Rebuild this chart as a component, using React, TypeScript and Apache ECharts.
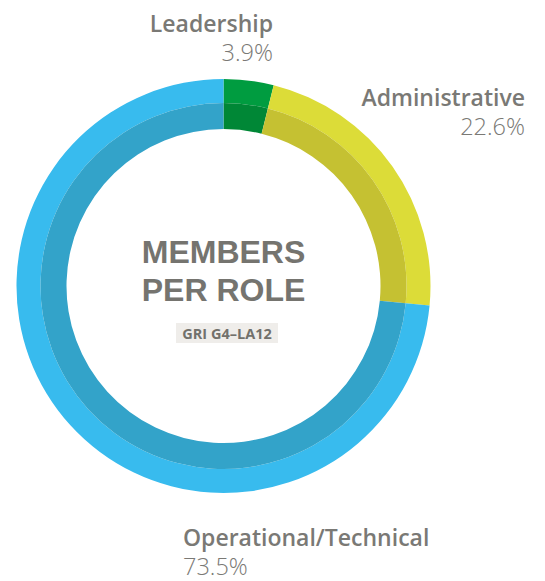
import React, { useEffect, useRef } from "react";
import * as echarts from "echarts";

const categories = ["Leadership", "Administrative", "Operational/Technical"];
const shares = [3.9, 22.6, 73.5];
const outerColors = ["#009C40", "#DCDC38", "#38BBEE"];
const innerColors = ["#008736", "#C5C132", "#33A3C9"];
const titleLines = ["MEMBERS", "PER ROLE"];
const badgeText = "GRI G4–LA12";

const FONT = "'Open Sans', sans-serif";
const TITLE_FONT = "'Liberation Sans', Arial, sans-serif";
const GRAY = "#7A7975";

export default function App() {
  const ref = useRef<HTMLDivElement>(null);
  useEffect(() => {
    if (!ref.current) return;
    const chart = echarts.init(ref.current, undefined, { renderer: "svg" });
    const cx = 223.5;
    const cy = 286;
    const labelPos = [
      { x: 273, y: 34, align: "right" },
      { x: 525, y: 108, align: "right" },
      { x: 183, y: 548, align: "left" },
    ];
    const labelTexts: any[] = [];
    categories.forEach((c, i) => {
      const p = labelPos[i];
      labelTexts.push({
        type: "text",
        x: p.x,
        y: p.y,
        style: {
          text: c,
          fill: GRAY,
          font: `600 23px ${FONT}`,
          textAlign: p.align,
          textVerticalAlign: "bottom",
        },
      });
      labelTexts.push({
        type: "text",
        x: p.x,
        y: p.y + 30,
        style: {
          text: shares[i].toFixed(1) + "%",
          fill: GRAY,
          font: `300 23.5px ${FONT}`,
          textAlign: p.align,
          textVerticalAlign: "bottom",
        },
      });
    });
    chart.setOption({
      animation: false,
      series: [
        {
          type: "pie",
          center: [cx, cy],
          radius: [183, 207],
          startAngle: 90,
          clockwise: true,
          silent: true,
          label: { show: false },
          labelLine: { show: false },
          itemStyle: { borderWidth: 0 },
          data: categories.map((c, i) => ({
            name: c,
            value: shares[i],
            itemStyle: { color: outerColors[i] },
          })),
        },
        {
          type: "pie",
          center: [cx, cy],
          radius: [157, 183],
          startAngle: 90,
          clockwise: true,
          silent: true,
          label: { show: false },
          labelLine: { show: false },
          itemStyle: { borderWidth: 0 },
          data: categories.map((c, i) => ({
            name: c,
            value: shares[i],
            itemStyle: { color: innerColors[i] },
          })),
        },
      ],
      graphic: [
        ...labelTexts,
        {
          type: "text",
          x: cx,
          y: 252,
          style: {
            text: titleLines[0],
            fill: "#75746F",
            font: `bold 32px ${TITLE_FONT}`,
            textAlign: "center",
            textVerticalAlign: "middle",
          },
        },
        {
          type: "text",
          x: cx,
          y: 290,
          style: {
            text: titleLines[1],
            fill: "#75746F",
            font: `bold 32px ${TITLE_FONT}`,
            textAlign: "center",
            textVerticalAlign: "middle",
          },
        },
        {
          type: "rect",
          shape: { x: 176, y: 323, width: 102, height: 20 },
          style: { fill: "#EFEDEA" },
        },
        {
          type: "text",
          x: 227,
          y: 333,
          style: {
            text: badgeText,
            fill: "#72716C",
            font: `bold 14.5px ${FONT}`,
            textAlign: "center",
            textVerticalAlign: "middle",
          },
        },
      ],
    });
    return () => chart.dispose();
  }, []);
  return (
    <div
      ref={ref}
      style={{ position: "fixed", left: 0, top: 0, width: 545, height: 581, background: "#fff" }}
    />
  );
}
